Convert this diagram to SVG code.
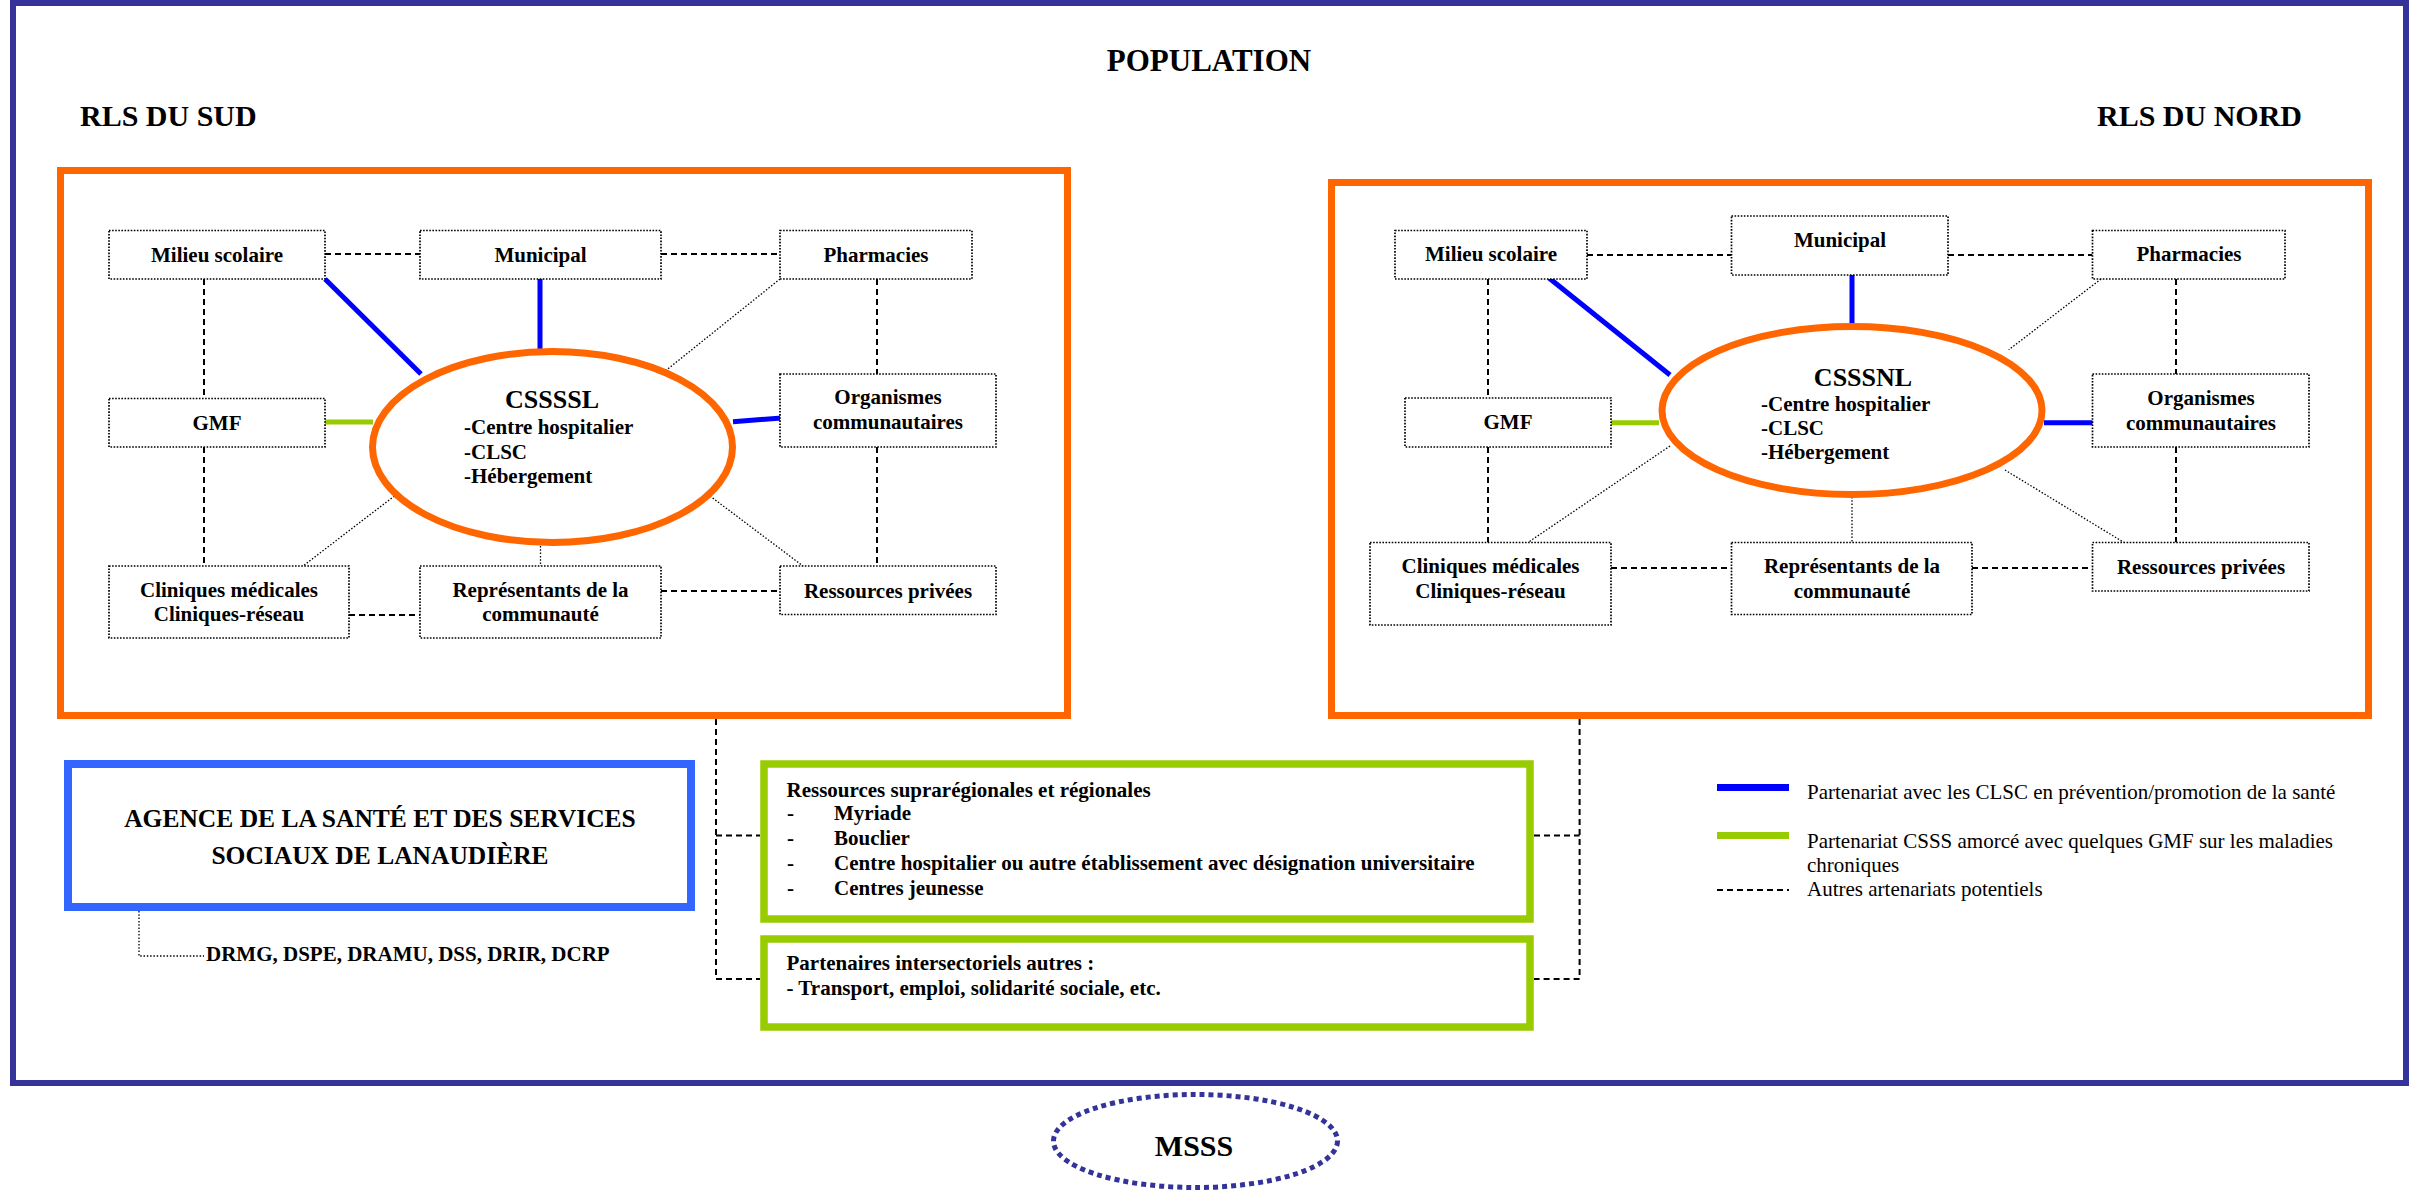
<svg xmlns="http://www.w3.org/2000/svg" width="2414" height="1191" viewBox="0 0 2414 1191">
<style>
text{font-family:"Liberation Serif","Times New Roman",serif;fill:#000}
.b{font-weight:bold}
.t21{font-size:21px}
.mid{text-anchor:middle}
.box{fill:#fff;stroke:#000;stroke-width:1.7;stroke-dasharray:1.6 1.5}
.dash{fill:none;stroke:#000;stroke-width:2;stroke-dasharray:6 4}
.dot{fill:none;stroke:#000;stroke-width:1.3;stroke-dasharray:1.5 1.8}
.blue{stroke:#0000FF;stroke-width:5;fill:none}
.green{stroke:#99CC00;stroke-width:5;fill:none}
.orange{fill:#fff;stroke:#FF6600;stroke-width:7}
.grbox{fill:#fff;stroke:#99CC00;stroke-width:7.5}
</style>
<rect x="0" y="0" width="2414" height="1191" fill="#fff"/>
<rect id="frame" x="13" y="3" width="2393" height="1080" fill="none" stroke="#333399" stroke-width="6"/>
<text class="b mid" x="1209" y="71" font-size="31">POPULATION</text>
<text class="b" x="80" y="126" font-size="30">RLS DU SUD</text>
<text class="b" x="2097" y="126" font-size="30">RLS DU NORD</text>

<!-- region frames -->
<rect id="rls-sud" class="orange" x="60.5" y="170.5" width="1007" height="545"/>
<rect id="rls-nord" class="orange" x="1331.5" y="182.5" width="1037" height="533"/>

<g id="connectors">
  <!-- south -->
  <line class="dash" x1="325" y1="254" x2="420" y2="254"/>
  <line class="dash" x1="661" y1="254" x2="780" y2="254"/>
  <line class="dash" x1="204" y1="279" x2="204" y2="398"/>
  <line class="dash" x1="204" y1="447" x2="204" y2="566"/>
  <line class="dash" x1="877" y1="279" x2="877" y2="374"/>
  <line class="dash" x1="877" y1="447" x2="877" y2="566"/>
  <line class="dash" x1="349" y1="615" x2="420" y2="615"/>
  <line class="dash" x1="661" y1="591" x2="780" y2="591"/>
  <line class="blue" x1="325" y1="279" x2="421" y2="374"/>
  <line class="blue" x1="540" y1="279" x2="540" y2="351"/>
  <line class="blue" x1="733" y1="421.7" x2="785" y2="417.7"/>
  <line class="green" x1="325" y1="422" x2="373" y2="422"/>
  <line class="dot" x1="780" y1="279" x2="661.5" y2="374"/>
  <line class="dot" x1="397" y1="494" x2="303" y2="566"/>
  <line class="dot" x1="710" y1="496" x2="803" y2="566"/>
  <line class="dot" x1="540.5" y1="546" x2="540.5" y2="566"/>
  <!-- north -->
  <line class="dash" x1="1587" y1="255" x2="1731.5" y2="255"/>
  <line class="dash" x1="1948" y1="255" x2="2092.5" y2="255"/>
  <line class="dash" x1="1488" y1="279" x2="1488" y2="398"/>
  <line class="dash" x1="1488" y1="447" x2="1488" y2="542.5"/>
  <line class="dash" x1="2176" y1="279" x2="2176" y2="374"/>
  <line class="dash" x1="2176" y1="447" x2="2176" y2="542.5"/>
  <line class="dash" x1="1611" y1="568" x2="1731.5" y2="568"/>
  <line class="dash" x1="1972" y1="568" x2="2092.5" y2="568"/>
  <line class="blue" x1="1549" y1="278" x2="1670" y2="375"/>
  <line class="blue" x1="1852" y1="275" x2="1852" y2="324"/>
  <line class="blue" x1="2044" y1="422.7" x2="2093" y2="422.7"/>
  <line class="green" x1="1611" y1="422.7" x2="1659" y2="422.7"/>
  <line class="dot" x1="2101" y1="279" x2="2008.7" y2="349.8"/>
  <line class="dot" x1="1670" y1="446" x2="1528" y2="542.5"/>
  <line class="dot" x1="2005" y1="470" x2="2124" y2="542.5"/>
  <line class="dot" x1="1852" y1="497" x2="1852" y2="542.5"/>
  <!-- to bottom boxes -->
  <polyline class="dash" points="716,719 716,979 760,979"/>
  <line class="dash" x1="716" y1="835.5" x2="760" y2="835.5"/>
  <polyline class="dash" points="1579.6,719 1579.6,979 1534,979"/>
  <line class="dash" x1="1534" y1="835.5" x2="1579.6" y2="835.5"/>
  <polyline class="dot" points="139,911 139,956 204,956"/>
</g>

<!-- SOUTH nodes -->
<g id="sud-csssl">
  <ellipse class="orange" cx="552.5" cy="447" rx="180" ry="95.5"/>
  <text class="b mid" x="552" y="408" font-size="26">CSSSSL</text>
  <text class="b t21" x="464" y="434">-Centre hospitalier</text>
  <text class="b t21" x="464" y="459">-CLSC</text>
  <text class="b t21" x="464" y="483">-Hébergement</text>
</g>
<g id="sud-milieu-scolaire"><rect class="box" x="109" y="230.5" width="216" height="48.5"/><text class="b t21 mid" x="217" y="262">Milieu scolaire</text></g>
<g id="sud-municipal"><rect class="box" x="420" y="230.5" width="241" height="48.5"/><text class="b t21 mid" x="540.5" y="262">Municipal</text></g>
<g id="sud-pharmacies"><rect class="box" x="780" y="230.5" width="192" height="48.5"/><text class="b t21 mid" x="876" y="262">Pharmacies</text></g>
<g id="sud-gmf"><rect class="box" x="109" y="398.5" width="216" height="48.5"/><text class="b t21 mid" x="217" y="430">GMF</text></g>
<g id="sud-organismes"><rect class="box" x="780" y="374" width="216" height="73"/><text class="b t21 mid" x="888" y="404">Organismes</text><text class="b t21 mid" x="888" y="429">communautaires</text></g>
<g id="sud-cliniques"><rect class="box" x="109" y="566" width="240" height="72"/><text class="b t21 mid" x="229" y="597">Cliniques médicales</text><text class="b t21 mid" x="229" y="621">Cliniques-réseau</text></g>
<g id="sud-representants"><rect class="box" x="420" y="566" width="241" height="72"/><text class="b t21 mid" x="540.5" y="597">Représentants de la</text><text class="b t21 mid" x="540.5" y="621">communauté</text></g>
<g id="sud-ressources"><rect class="box" x="780" y="566" width="216" height="48.5"/><text class="b t21 mid" x="888" y="598">Ressources privées</text></g>

<!-- NORTH nodes -->
<g id="nord-csssnl">
  <ellipse class="orange" cx="1852" cy="410.5" rx="190" ry="84"/>
  <text class="b mid" x="1863" y="386" font-size="26">CSSSNL</text>
  <text class="b t21" x="1761" y="411">-Centre hospitalier</text>
  <text class="b t21" x="1761" y="435">-CLSC</text>
  <text class="b t21" x="1761" y="459">-Hébergement</text>
</g>
<g id="nord-milieu-scolaire"><rect class="box" x="1395" y="230.5" width="192" height="48.5"/><text class="b t21 mid" x="1491" y="261">Milieu scolaire</text></g>
<g id="nord-municipal"><rect class="box" x="1731.5" y="216" width="216.5" height="59"/><text class="b t21 mid" x="1840" y="247">Municipal</text></g>
<g id="nord-pharmacies"><rect class="box" x="2092.5" y="230.5" width="192.5" height="48.5"/><text class="b t21 mid" x="2189" y="261">Pharmacies</text></g>
<g id="nord-gmf"><rect class="box" x="1405" y="398" width="206" height="49"/><text class="b t21 mid" x="1508" y="429">GMF</text></g>
<g id="nord-organismes"><rect class="box" x="2092.5" y="374" width="216.5" height="73"/><text class="b t21 mid" x="2201" y="404.5">Organismes</text><text class="b t21 mid" x="2201" y="430">communautaires</text></g>
<g id="nord-cliniques"><rect class="box" x="1370" y="542.5" width="241" height="82.5"/><text class="b t21 mid" x="1490.5" y="573">Cliniques médicales</text><text class="b t21 mid" x="1490.5" y="597.5">Cliniques-réseau</text></g>
<g id="nord-representants"><rect class="box" x="1731.5" y="542.5" width="240.5" height="72"/><text class="b t21 mid" x="1852" y="573">Représentants de la</text><text class="b t21 mid" x="1852" y="597.5">communauté</text></g>
<g id="nord-ressources"><rect class="box" x="2092.5" y="542.5" width="216.5" height="48.5"/><text class="b t21 mid" x="2201" y="573.5">Ressources privées</text></g>

<!-- Agence -->
<g id="agence">
  <rect x="68" y="764" width="623" height="143" fill="#fff" stroke="#3366FF" stroke-width="8"/>
  <text class="b mid" x="380" y="827" font-size="25.5">AGENCE DE LA SANTÉ ET DES SERVICES</text>
  <text class="b mid" x="380" y="864" font-size="25.5">SOCIAUX DE LANAUDIÈRE</text>
</g>
<g id="directions"><text class="b t21" x="206" y="961">DRMG, DSPE, DRAMU, DSS, DRIR, DCRP</text></g>

<!-- Green boxes -->
<g id="ressources-supra">
  <rect class="grbox" x="764" y="764" width="766" height="155"/>
  <text class="b t21" x="786.5" y="796.5">Ressources suprarégionales et régionales</text>
  <text class="b t21" x="787" y="820">-</text><text class="b t21" x="834" y="820">Myriade</text>
  <text class="b t21" x="787" y="845">-</text><text class="b t21" x="834" y="845">Bouclier</text>
  <text class="b t21" x="787" y="870">-</text><text class="b t21" x="834" y="870">Centre hospitalier ou autre établissement avec désignation universitaire</text>
  <text class="b t21" x="787" y="894.5">-</text><text class="b t21" x="834" y="894.5">Centres jeunesse</text>
</g>
<g id="partenaires">
  <rect class="grbox" x="764" y="939" width="766" height="88"/>
  <text class="b t21" x="786.5" y="970">Partenaires intersectoriels autres :</text>
  <text class="b t21" x="786.5" y="995">- Transport, emploi, solidarité sociale, etc.</text>
</g>

<!-- Legend -->
<g id="legende">
  <line x1="1717" y1="787.5" x2="1789" y2="787.5" stroke="#0000FF" stroke-width="7"/>
  <text class="t21" x="1807" y="799">Partenariat avec les CLSC en prévention/promotion de la santé</text>
  <line x1="1717" y1="835.5" x2="1789" y2="835.5" stroke="#99CC00" stroke-width="7"/>
  <text class="t21" x="1807" y="848">Partenariat CSSS amorcé avec quelques GMF sur les maladies</text>
  <text class="t21" x="1807" y="872">chroniques</text>
  <line class="dash" x1="1717" y1="890" x2="1789" y2="890"/>
  <text class="t21" x="1807" y="896">Autres artenariats potentiels</text>
</g>

<!-- MSSS -->
<g id="msss">
  <ellipse cx="1195.5" cy="1141" rx="142" ry="46.5" fill="#fff" stroke="#333399" stroke-width="5" stroke-dasharray="5 4"/>
  <text class="b mid" x="1194" y="1156" font-size="30">MSSS</text>
</g>
</svg>
